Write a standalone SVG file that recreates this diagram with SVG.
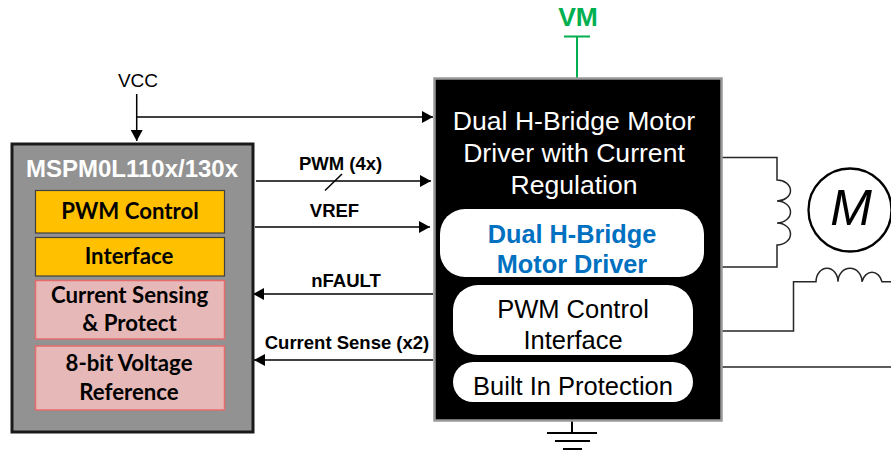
<svg xmlns="http://www.w3.org/2000/svg" width="891" height="450" viewBox="0 0 891 450">
<style>
.sf{font-family:"Liberation Sans",Arial,sans-serif}
.inner{font-family:Lato,"Open Sans",sans-serif;font-weight:700;font-size:22.2px;fill:#000;text-anchor:middle}
.sig{font-family:"Liberation Sans",Arial,sans-serif;font-weight:700;font-size:18.500px;fill:#000;text-anchor:middle}
.drv{font-family:"Liberation Sans",Arial,sans-serif;font-size:25.500px;text-anchor:middle}
.ttl{font-family:"Liberation Sans",Arial,sans-serif;font-size:26.600px;text-anchor:middle;fill:#fff}
.org{fill:#ffc000;stroke:#404040;stroke-width:1.2}
.pink{fill:#e6b8b7;stroke:#e46c6c;stroke-width:1.5}
.ln{fill:none;stroke:#000;stroke-width:1.5}
.wire{fill:none;stroke:#262626;stroke-width:1.5}
.pill{fill:#fff}
</style>
<defs>
<marker id="ah" markerUnits="userSpaceOnUse" markerWidth="12" markerHeight="12" refX="11" refY="6" orient="auto-start-reverse"><path d="M0 0L11 6L0 12Z" fill="#000"/></marker>
</defs>
<g id="connectors">
<path class="ln" d="M136.700 94V141" marker-end="url(#ah)"/>
<path class="ln" d="M136.700 117H433" marker-end="url(#ah)"/>
<path class="ln" d="M256 181H431" marker-end="url(#ah)"/>
<path class="ln" d="M325 190.500L342 174"/>
<path class="ln" d="M255 227H430" marker-end="url(#ah)"/>
<path class="ln" d="M433 294H253" marker-end="url(#ah)"/>
<path class="ln" d="M433 360H254" marker-end="url(#ah)"/>
<path fill="none" stroke="#00b050" stroke-width="2" d="M577 37V78M564 36.500H590"/>
<path fill="none" stroke="#000" stroke-width="2" d="M572 421V433M547 433H597M555 441H590M563 449H582"/>
<path class="wire" d="M722 157.500H777V180A13.500 10.500 0 0 1 777 201A13.500 11 0 0 1 777 223A13.500 11 0 0 1 777 245V267H722"/>
<path class="wire" d="M722 331H793.500V281.700H816A11 13.500 0 0 1 838 281.700A12 13.500 0 0 1 862 281.700A10.500 13.500 0 0 1 882 281.700H891"/>
<path class="wire" d="M722 367H891"/>
</g>
<g id="mcu">
<rect x="12" y="144" width="241" height="288" fill="#929292" stroke="#1a1a1a" stroke-width="3"/>
<text class="sf" x="132" y="176.500" font-size="24" font-weight="700" fill="#fff" text-anchor="middle">MSPM0L110x/130x</text>
</g>
<g id="pwm-control"><rect class="org" x="35.500" y="190.500" width="189" height="42.500"/><text class="inner" x="130" y="219">PWM Control</text></g>
<g id="interface"><rect class="org" x="35.500" y="237.500" width="189" height="38.500"/><text class="inner" x="129" y="263.500">Interface</text></g>
<g id="current-sensing"><rect class="pink" x="35.500" y="280.500" width="189" height="58.500"/><text class="inner" x="129.500" y="303">Current Sensing</text><text class="inner" x="129.500" y="331">&amp; Protect</text></g>
<g id="voltage-ref"><rect class="pink" x="35.500" y="346" width="189" height="64"/><text class="inner" x="129" y="371">8-bit Voltage</text><text class="inner" x="129" y="399.500">Reference</text></g>
<g id="labels">
<text class="sig" x="340.500" y="170">PWM (4x)</text>
<text class="sig" x="334.500" y="217">VREF</text>
<text class="sig" x="346" y="287">nFAULT</text>
<text class="sig" x="347" y="349">Current Sense (x2)</text>
<text class="sf" x="138" y="87" font-size="19" fill="#000" text-anchor="middle">VCC</text>
<text class="sf" x="578" y="26" font-size="26.500" font-weight="700" fill="#00b050" text-anchor="middle">VM</text>
</g>
<g id="driver">
<rect x="434.500" y="78.500" width="287" height="342" fill="#000" stroke="#999" stroke-width="2.500"/>
<text class="ttl" x="574" y="130">Dual H-Bridge Motor</text>
<text class="ttl" x="574" y="162">Driver with Current</text>
<text class="ttl" x="574" y="194">Regulation</text>
</g>
<g id="driver-block"><rect class="pill" x="440" y="209" width="264" height="68" rx="25"/><text class="sf" x="572" y="243" font-size="25.300" font-weight="700" fill="#0070c0" text-anchor="middle">Dual H-Bridge</text><text class="sf" x="572" y="273" font-size="25.300" font-weight="700" fill="#0070c0" text-anchor="middle">Motor Driver</text></g>
<g id="pwm-interface"><rect class="pill" x="453" y="285" width="240" height="70" rx="25"/><text class="drv" x="573" y="318">PWM Control</text><text class="drv" x="573" y="349">Interface</text></g>
<g id="protection"><rect class="pill" x="453" y="362" width="240" height="40" rx="20"/><text class="drv" x="573" y="395">Built In Protection</text></g>
<g id="motor"><circle cx="850" cy="210" r="41.500" fill="#fff" stroke="#000" stroke-width="2.300"/><text class="sf" x="851" y="225" font-size="50" font-style="italic" fill="#000" text-anchor="middle">M</text></g>
</svg>
